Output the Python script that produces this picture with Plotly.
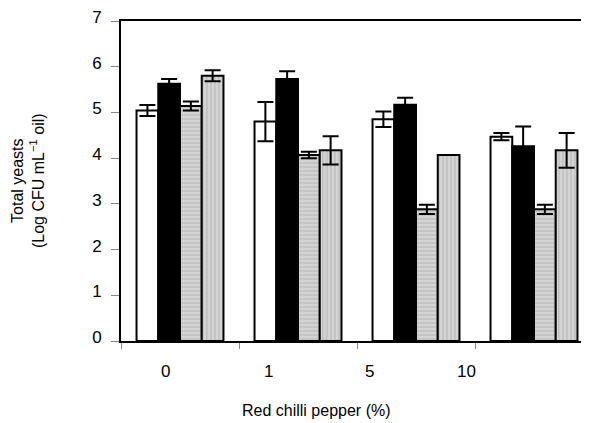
import plotly.graph_objects as go

groups = ["0", "1", "5", "10"]
white_vals = [5.04, 4.80, 4.85, 4.47]
white_err = [0.12, 0.43, 0.17, 0.08]
black_vals = [5.63, 5.73, 5.17, 4.26]
black_err = [0.10, 0.17, 0.15, 0.43]
hstripe_vals = [5.14, 4.07, 2.88, 2.88]
hstripe_err = [0.10, 0.07, 0.10, 0.10]
vstripe_vals = [5.80, 4.17, 4.07, 4.17]
vstripe_err = [0.12, 0.31, 0.0, 0.38]

y_ticks = [0, 1, 2, 3, 4, 5, 6, 7]
# positions of the group labels (in category units) as printed in the original
label_pos = [-0.12, 0.75, 1.61, 2.43]

FONT = "Liberation Sans, Arial, sans-serif"

W, H = 589, 423
OFF = 8  # page body margin
ML, MT, MR, MB = 121 - OFF, 13 - OFF, 0, H - (341 - OFF)
PW = W - ML - MR
PH = H - MT - MB
BAND = 118.0


def px_x(x):
    return (x - OFF - ML) / PW


def px_y(y):
    return (H - MB - (y - OFF)) / PH


xs = list(range(len(groups)))
series = [
    (white_vals, white_err, dict(color="white")),
    (black_vals, black_err, dict(color="black")),
    (hstripe_vals, hstripe_err, dict(color="#c8c8c8", pattern=dict(shape="-", size=4, solidity=0.3, fgcolor="#a0a0a0", bgcolor="#d4d4d4"))),
    (vstripe_vals, vstripe_err, dict(color="#c8c8c8", pattern=dict(shape="|", size=4, solidity=0.3, fgcolor="#a0a0a0", bgcolor="#d4d4d4"))),
]

fig = go.Figure()
for vals, errs, mk in series:
    mk = dict(mk)
    mk["line"] = dict(color="black", width=2)
    fig.add_trace(go.Bar(
        x=xs, y=vals, marker=mk,
        error_y=dict(type="data", array=errs, visible=True, color="black", thickness=2, width=8),
        showlegend=False,
    ))

fig.update_layout(
    width=W, height=H,
    margin=dict(l=ML, r=MR, t=MT, b=MB),
    plot_bgcolor="white", paper_bgcolor="white",
    barmode="group", bargap=0.263, bargroupgap=0,
    font=dict(family=FONT, size=16, color="black"),
    xaxis=dict(
        range=[-0.5, -0.5 + PW / BAND], tickmode="array", tickvals=[-0.5, 0.5, 1.5, 2.5],
        showticklabels=False, ticks="outside", ticklen=6, tickcolor="#888", tickwidth=1,
        showline=True, linecolor="black", linewidth=2, mirror=True,
        showgrid=False, zeroline=False,
    ),
    yaxis=dict(
        range=[0, 7], tickmode="array", tickvals=y_ticks, ticktext=[str(v) for v in y_ticks],
        ticks="outside", ticklen=8, tickcolor="#888", tickwidth=1, ticklabelstandoff=6,
        ticklabelshift=-4, ticklabeloverflow="allow",
        tickfont=dict(size=17, family=FONT),
        showline=True, linecolor="black", linewidth=2,
        showgrid=False, zeroline=False,
    ),
)

for pos, lab in zip(label_pos, groups):
    fig.add_annotation(x=pos, y=px_y(372), xref="x", yref="paper", text=lab, showarrow=False,
                       font=dict(size=17, family=FONT), xanchor="center", yanchor="middle")

fig.add_annotation(x=px_x(316), y=px_y(412), xref="paper", yref="paper",
                   text="Red chilli pepper (%)", showarrow=False, font=dict(size=16, family=FONT),
                   xanchor="center", yanchor="middle")
fig.add_annotation(x=px_x(28), y=px_y(177), xref="paper", yref="paper",
                   text="Total yeasts<br>(Log CFU mL<sup>\u22121</sup> oil)", showarrow=False, textangle=-90,
                   font=dict(size=16, family=FONT), xanchor="center", yanchor="middle")

fig.write_html("out.html")
